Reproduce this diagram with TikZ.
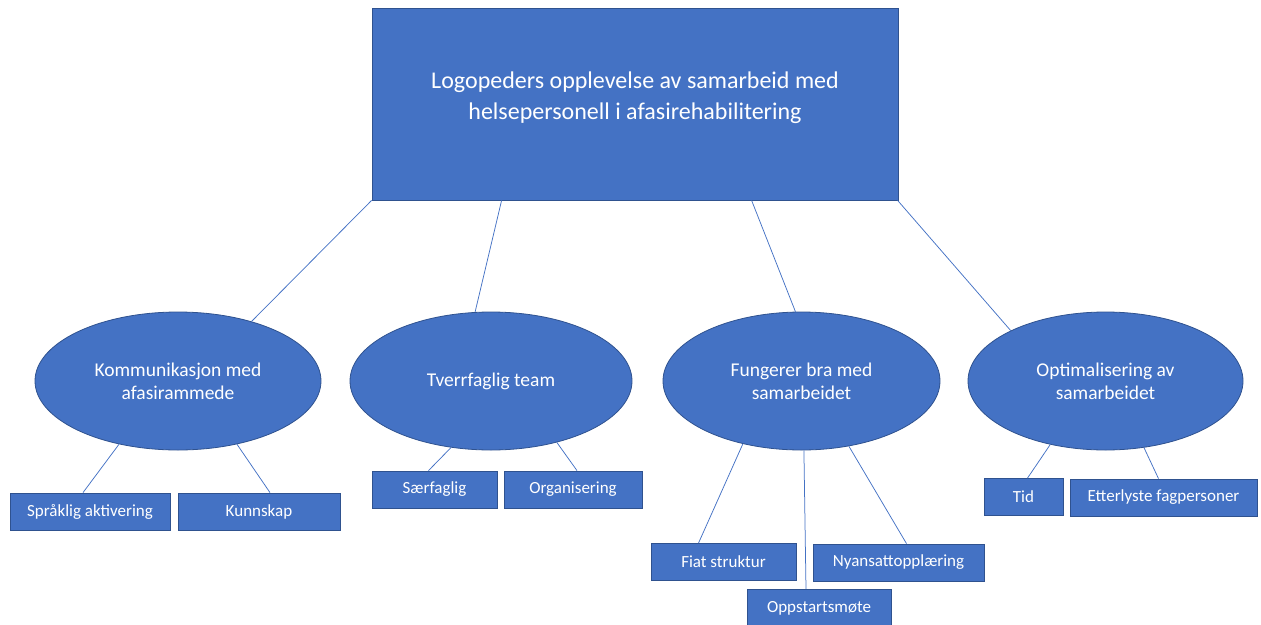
\documentclass[tikz,border=0pt]{standalone}
\usepackage{fontspec}
\setmainfont{Carlito}
\usetikzlibrary{shapes.geometric}
\definecolor{officeblue}{HTML}{4472C4}
\definecolor{officeline}{HTML}{2F528F}

\begin{document}
\begin{tikzpicture}[x=1pt, y=-1pt]
	\tikzstyle{root}  = [rectangle, draw=officeline, fill=officeblue, line width=0.8pt, minimum width=526pt, minimum height=192pt]
	\tikzstyle{title} = [text=white, align=center, font=\fontsize{24}{31}\selectfont]
	\tikzstyle{theme} = [ellipse, draw=officeline, fill=officeblue, text=white, line width=0.8pt, minimum height=138pt, inner sep=0pt, align=center, font=\fontsize{19.5}{23}\selectfont]
	\tikzstyle{sub}   = [rectangle, draw=officeline, fill=officeblue, text=white, line width=0.8pt, minimum height=37pt, inner sep=0pt, font=\fontsize{17}{20}\selectfont]
	\tikzstyle{link}  = [draw=officeblue, line width=0.75pt]

	\useasboundingbox (0,0) rectangle (1261,624);

	\node[root] (top) at (635,104) {};
	\node[title] (toptext) at ([yshift=6pt]top.center) {Logopeders opplevelse av samarbeid med\\helsepersonell i afasirehabilitering};

	\foreach \name/\x/\w/\text in {kom/178/286/{Kommunikasjon med\\afasirammede}, tve/491/282/{Tverrfaglig team}, fun/801.5/277/{Fungerer bra med\\samarbeidet}, opt/1105.5/275/{Optimalisering av\\samarbeidet}}
		\node[theme, minimum width=\w pt] (\name) at (\x, 381) {\text};

	\foreach \name/\x/\y/\w/\text in {spr/90/511.5/160/Språklig aktivering, kun/259/511.5/162/Kunnskap, saer/434.5/489.5/125/Særfaglig, org/573/489.5/138/Organisering, fiat/723.5/562/145/Fiat struktur, opp/819/608/144/Oppstartsmøte, nya/898.5/562.5/171/Nyansattopplæring, tid/1023.5/497/79/Tid, ett/1163.5/497.5/187/Etterlyste fagpersoner}
		\node[sub, minimum width=\w pt] (\name) at (\x, \y) {\text};

	\foreach \dx/\to/\ang in {0/kom/39, 130/tve/103, 380/fun/95, 526/opt/152}
		\draw[link] ([xshift=\dx pt]top.south west) -- (\to.\ang);

	\foreach \from/\ang/\to/\dx in {kom/227/spr/-7, kom/313/kun/11, tve/239/saer/-6, tve/317/org/4, fun/227/fiat/-25, fun/272/opp/-13, fun/306/nya/8, opt/229/tid/4, opt/300/ett/-5}
		\draw[link] (\from.\ang) -- ([xshift=\dx pt]\to.north);

\end{tikzpicture}
\end{document}
